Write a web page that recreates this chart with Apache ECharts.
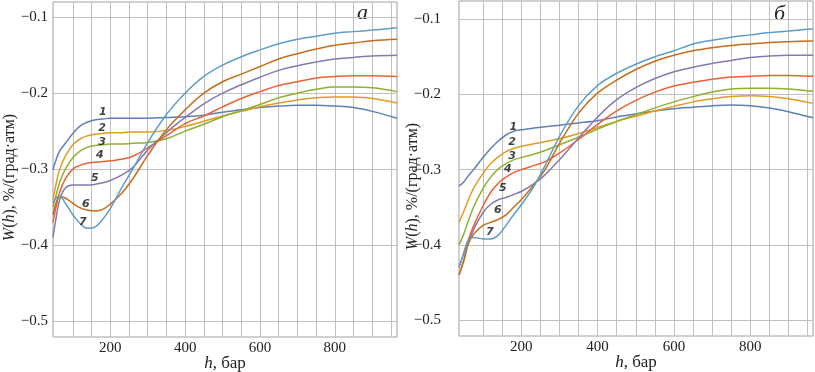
<!DOCTYPE html>
<html>
<head>
<meta charset="utf-8">
<script src="https://cdn.jsdelivr.net/npm/echarts@6/dist/echarts.min.js"></script>
<style>
  html, body { margin: 0; background: #fff; }
  #chart { width: 815px; height: 372px; }
</style>
</head>
<body>
<div id="chart"></div>
<script>
// h, бар — panel a (theory) and panel б (experiment)
const hA = [47, 55, 65, 80, 100, 120, 140, 160, 180, 200, 230, 260, 300, 350, 400, 450, 500, 550, 600, 650, 700, 750, 800, 850, 900, 966];
const hB = [37, 50, 60, 75, 100, 120, 140, 160, 180, 200, 230, 260, 300, 350, 400, 450, 500, 550, 600, 650, 700, 750, 800, 850, 900, 964];

// W(h), %/(град·атм) — panel a
const wA1 = [-0.301, -0.288, -0.276, -0.266, -0.253, -0.243, -0.238, -0.235, -0.234, -0.233, -0.233, -0.233, -0.233, -0.232, -0.231, -0.229, -0.225, -0.222, -0.219, -0.217, -0.216, -0.216, -0.217, -0.219, -0.224, -0.233];
const wA2 = [-0.34, -0.32, -0.30, -0.283, -0.268, -0.26, -0.256, -0.254, -0.253, -0.252, -0.252, -0.251, -0.251, -0.249, -0.244, -0.237, -0.230, -0.224, -0.218, -0.213, -0.209, -0.206, -0.205, -0.205, -0.207, -0.213];
const wA3 = [-0.35, -0.335, -0.317, -0.30, -0.285, -0.276, -0.271, -0.269, -0.268, -0.267, -0.267, -0.266, -0.265, -0.26, -0.25, -0.241, -0.231, -0.223, -0.215, -0.206, -0.200, -0.195, -0.192, -0.192, -0.193, -0.198];
const wA4 = [-0.37, -0.35, -0.33, -0.313, -0.30, -0.295, -0.292, -0.291, -0.29, -0.289, -0.287, -0.283, -0.272, -0.256, -0.24, -0.23, -0.218, -0.207, -0.198, -0.19, -0.185, -0.18, -0.178, -0.177, -0.177, -0.178];
const wA5 = [-0.39, -0.365, -0.34, -0.325, -0.321, -0.321, -0.321, -0.32, -0.318, -0.315, -0.308, -0.298, -0.275, -0.252, -0.232, -0.214, -0.200, -0.189, -0.179, -0.170, -0.164, -0.159, -0.155, -0.153, -0.151, -0.150];
const wA6 = [-0.36, -0.345, -0.336, -0.338, -0.345, -0.351, -0.354, -0.355, -0.353, -0.346, -0.332, -0.313, -0.282, -0.248, -0.222, -0.200, -0.185, -0.175, -0.165, -0.155, -0.148, -0.142, -0.137, -0.134, -0.131, -0.129];
const wA7 = [-0.345, -0.338, -0.336, -0.345, -0.36, -0.372, -0.378, -0.376, -0.366, -0.352, -0.325, -0.30, -0.265, -0.228, -0.200, -0.178, -0.163, -0.152, -0.143, -0.135, -0.129, -0.125, -0.121, -0.119, -0.117, -0.114];

// panel б
const wB1 = [-0.322, -0.316, -0.309, -0.300, -0.284, -0.272, -0.262, -0.254, -0.249, -0.247, -0.245, -0.243, -0.241, -0.238, -0.235, -0.230, -0.226, -0.222, -0.219, -0.217, -0.215, -0.214, -0.215, -0.218, -0.223, -0.231];
const wB2 = [-0.370, -0.355, -0.342, -0.325, -0.305, -0.292, -0.283, -0.276, -0.272, -0.269, -0.266, -0.263, -0.259, -0.252, -0.244, -0.236, -0.229, -0.222, -0.216, -0.210, -0.206, -0.203, -0.202, -0.203, -0.206, -0.212];
const wB3 = [-0.40, -0.385, -0.37, -0.35, -0.325, -0.310, -0.299, -0.292, -0.287, -0.284, -0.280, -0.275, -0.267, -0.257, -0.246, -0.236, -0.227, -0.218, -0.210, -0.203, -0.197, -0.193, -0.192, -0.192, -0.193, -0.196];
const wB4 = [-0.43, -0.41, -0.395, -0.375, -0.348, -0.33, -0.318, -0.31, -0.304, -0.300, -0.295, -0.29, -0.278, -0.260, -0.240, -0.222, -0.208, -0.197, -0.189, -0.184, -0.180, -0.177, -0.176, -0.175, -0.175, -0.176];
const wB5 = [-0.44, -0.42, -0.40, -0.38, -0.357, -0.346, -0.340, -0.337, -0.333, -0.329, -0.320, -0.308, -0.287, -0.258, -0.230, -0.207, -0.191, -0.179, -0.170, -0.164, -0.159, -0.155, -0.151, -0.149, -0.148, -0.148];
const wB6 = [-0.44, -0.42, -0.40, -0.386, -0.374, -0.370, -0.366, -0.360, -0.350, -0.340, -0.322, -0.302, -0.265, -0.225, -0.198, -0.181, -0.167, -0.156, -0.148, -0.142, -0.138, -0.135, -0.133, -0.131, -0.130, -0.129];
const wB7 = [-0.43, -0.41, -0.395, -0.39, -0.392, -0.392, -0.387, -0.374, -0.360, -0.347, -0.325, -0.297, -0.256, -0.215, -0.188, -0.172, -0.160, -0.150, -0.142, -0.133, -0.128, -0.124, -0.121, -0.118, -0.116, -0.113];

// curve numbers: [h, W, label]
const tagsA = [[180, -0.225, '1'], [178, -0.246, '2'], [178, -0.264, '3'], [172, -0.282, '4'], [159, -0.312, '5'], [135, -0.346, '6'], [127, -0.370, '7']];
const tagsB = [[179, -0.243, '1'], [176, -0.263, '2'], [176, -0.282, '3'], [165, -0.299, '4'], [152, -0.324, '5'], [139, -0.354, '6'], [118, -0.383, '7']];

const yTicks = [-0.5, -0.4, -0.3, -0.2, -0.1];
const hLabels = [200, 400, 600, 800];
const hGrid = [100, 150, 200, 250, 300, 350, 400, 450, 500, 550, 600, 650, 700, 750, 800, 850, 900, 950];

const colors = ['#5E81B5', '#E19C24', '#8FB032', '#EB6235', '#8778B3', '#C56E1A', '#5D9EC7'];
const serif = '"Liberation Serif", "DejaVu Serif", serif';

const chart = echarts.init(document.getElementById('chart'));

function xAxis(gridIndex, min, max) {
  return {
    type: 'value', gridIndex, min, max,
    name: '{i|h}, бар', nameLocation: 'middle', nameGap: 18, nameMoveOverlap: false,
    nameTextStyle: { fontFamily: serif, fontSize: 17, color: '#222', rich: { i: { fontStyle: 'italic', fontFamily: serif, fontSize: 17, color: '#222' } } },
    axisLine: { show: false },
    axisTick: { show: true, length: 0, customValues: hGrid },
    axisLabel: { customValues: hLabels, fontFamily: serif, fontSize: 15, color: '#222', margin: 4 },
    splitLine: { show: true, lineStyle: { color: '#c0c0c0', width: 1 } }
  };
}

function yAxis(gridIndex, min, max, gap, margin, pad) {
  return {
    type: 'value', gridIndex, min, max,
    name: '{i|W}({i|h}), %/(град·атм)', nameLocation: 'middle', nameGap: gap, nameMoveOverlap: false,
    nameTextStyle: { fontFamily: serif, fontSize: 16, color: '#222', padding: pad,
      rich: { i: { fontStyle: 'italic', fontFamily: serif, fontSize: 16, color: '#222' } } },
    axisLine: { show: false },
    axisTick: { show: true, length: 0, customValues: yTicks },
    axisLabel: { customValues: yTicks, fontFamily: serif, fontSize: 15, color: '#222', margin,
      formatter: v => '\u2212' + Math.abs(v).toFixed(1) },
    splitLine: { show: true, lineStyle: { color: '#c0c0c0', width: 1 } }
  };
}

function curve(idx, h, w, n) {
  return {
    type: 'line', xAxisIndex: idx, yAxisIndex: idx,
    data: h.map((x, i) => [x, w[i]]),
    smooth: idx === 0 ? 0.4 : 0.25, showSymbol: false, silent: true,
    lineStyle: { color: colors[n], width: 1.5 }, z: 3
  };
}

function tags(idx, list) {
  return {
    type: 'scatter', xAxisIndex: idx, yAxisIndex: idx, silent: true,
    symbolSize: 1, itemStyle: { color: 'rgba(0,0,0,0)' }, z: 5,
    data: list.map(t => ({ value: [t[0], t[1]], name: t[2] })),
    label: { show: true, position: 'inside', formatter: p => p.name, fontFamily: '"DejaVu Sans", sans-serif',
      fontSize: 11, fontWeight: 'bold', fontStyle: 'italic', color: '#111' }
  };
}

const wA = [wA1, wA2, wA3, wA4, wA5, wA6, wA7];
const wB = [wB1, wB2, wB3, wB4, wB5, wB6, wB7];

chart.setOption({
  animation: false,
  grid: [
    { left: 53, top: 2, width: 344, height: 335, show: true, borderColor: '#a0a0a0', borderWidth: 1, outerBoundsMode: 'none' },
    { left: 459, top: 1, width: 354, height: 335, show: true, borderColor: '#a0a0a0', borderWidth: 1, outerBoundsMode: 'none' }
  ],
  xAxis: [xAxis(0, 47, 966), xAxis(1, 37, 964)],
  yAxis: [yAxis(0, -0.521, -0.080, 35, 5, [0, 16, 0, 0]), yAxis(1, -0.521, -0.076, 38, 18, [0, 36, 0, 0])],
  graphic: [
    { type: 'text', left: 357, top: 2, style: { text: 'а', font: 'italic 22px ' + serif, fill: '#222' } },
    { type: 'text', left: 774, top: 3, style: { text: 'б', font: 'italic 22px ' + serif, fill: '#222' } }
  ],
  series: [
    ...wA.map((w, n) => curve(0, hA, w, n)),
    ...wB.map((w, n) => curve(1, hB, w, n)),
    tags(0, tagsA),
    tags(1, tagsB)
  ]
});
</script>
</body>
</html>
